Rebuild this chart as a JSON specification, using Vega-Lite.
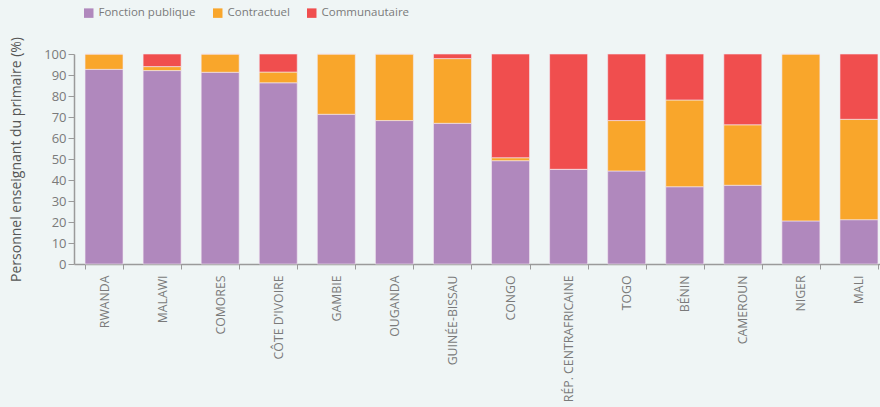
{
  "$schema": "https://vega.github.io/schema/vega-lite/v6.json",
  "width": 815,
  "height": 210,
  "autosize": {"type": "none"},
  "padding": {"left": 74, "top": 54, "right": 0, "bottom": 143},
  "background": "#eff5f5",
  "config": {
    "view": {"stroke": null},
    "font": "Open Sans"
  },
  "data": {
    "values": [
      {"pays": "RWANDA", "type": "Fonction publique", "o": 1, "v": 92.7},
      {"pays": "RWANDA", "type": "Contractuel", "o": 2, "v": 7.3},
      {"pays": "RWANDA", "type": "Communautaire", "o": 3, "v": 0},
      {"pays": "MALAWI", "type": "Fonction publique", "o": 1, "v": 92.1},
      {"pays": "MALAWI", "type": "Contractuel", "o": 2, "v": 1.9},
      {"pays": "MALAWI", "type": "Communautaire", "o": 3, "v": 6.0},
      {"pays": "COMORES", "type": "Fonction publique", "o": 1, "v": 91.3},
      {"pays": "COMORES", "type": "Contractuel", "o": 2, "v": 8.7},
      {"pays": "COMORES", "type": "Communautaire", "o": 3, "v": 0},
      {"pays": "CÔTE D'IVOIRE", "type": "Fonction publique", "o": 1, "v": 86.3},
      {"pays": "CÔTE D'IVOIRE", "type": "Contractuel", "o": 2, "v": 5.1},
      {"pays": "CÔTE D'IVOIRE", "type": "Communautaire", "o": 3, "v": 8.6},
      {"pays": "GAMBIE", "type": "Fonction publique", "o": 1, "v": 71.3},
      {"pays": "GAMBIE", "type": "Contractuel", "o": 2, "v": 28.7},
      {"pays": "GAMBIE", "type": "Communautaire", "o": 3, "v": 0},
      {"pays": "OUGANDA", "type": "Fonction publique", "o": 1, "v": 68.3},
      {"pays": "OUGANDA", "type": "Contractuel", "o": 2, "v": 31.7},
      {"pays": "OUGANDA", "type": "Communautaire", "o": 3, "v": 0},
      {"pays": "GUINÉE-BISSAU", "type": "Fonction publique", "o": 1, "v": 67.0},
      {"pays": "GUINÉE-BISSAU", "type": "Contractuel", "o": 2, "v": 30.8},
      {"pays": "GUINÉE-BISSAU", "type": "Communautaire", "o": 3, "v": 2.2},
      {"pays": "CONGO", "type": "Fonction publique", "o": 1, "v": 49.2},
      {"pays": "CONGO", "type": "Contractuel", "o": 2, "v": 1.4},
      {"pays": "CONGO", "type": "Communautaire", "o": 3, "v": 49.4},
      {"pays": "RÉP. CENTRAFRICAINE", "type": "Fonction publique", "o": 1, "v": 45.1},
      {"pays": "RÉP. CENTRAFRICAINE", "type": "Contractuel", "o": 2, "v": 0},
      {"pays": "RÉP. CENTRAFRICAINE", "type": "Communautaire", "o": 3, "v": 54.9},
      {"pays": "TOGO", "type": "Fonction publique", "o": 1, "v": 44.3},
      {"pays": "TOGO", "type": "Contractuel", "o": 2, "v": 24.0},
      {"pays": "TOGO", "type": "Communautaire", "o": 3, "v": 31.7},
      {"pays": "BÉNIN", "type": "Fonction publique", "o": 1, "v": 36.8},
      {"pays": "BÉNIN", "type": "Contractuel", "o": 2, "v": 41.3},
      {"pays": "BÉNIN", "type": "Communautaire", "o": 3, "v": 21.9},
      {"pays": "CAMEROUN", "type": "Fonction publique", "o": 1, "v": 37.5},
      {"pays": "CAMEROUN", "type": "Contractuel", "o": 2, "v": 28.8},
      {"pays": "CAMEROUN", "type": "Communautaire", "o": 3, "v": 33.7},
      {"pays": "NIGER", "type": "Fonction publique", "o": 1, "v": 20.5},
      {"pays": "NIGER", "type": "Contractuel", "o": 2, "v": 79.5},
      {"pays": "NIGER", "type": "Communautaire", "o": 3, "v": 0},
      {"pays": "MALI", "type": "Fonction publique", "o": 1, "v": 21.1},
      {"pays": "MALI", "type": "Contractuel", "o": 2, "v": 47.8},
      {"pays": "MALI", "type": "Communautaire", "o": 3, "v": 31.1}
    ]
  },
  "mark": {"type": "bar", "stroke": "#f4e9f4", "strokeWidth": 0.6},
  "encoding": {
    "x": {
      "field": "pays",
      "type": "nominal",
      "sort": null,
      "scale": {"paddingInner": 0.346, "paddingOuter": 0.19},
      "axis": {
        "title": null,
        "labelAngle": -90,
        "labelAlign": "right",
        "labelBaseline": "middle",
        "labelFontSize": 12.3,
        "labelColor": "#7a7a7a",
        "labelPadding": 6,
        "tickBand": "extent",
        "tickColor": "#9a9a9a",
        "tickSize": 5,
        "domainColor": "#9a9a9a",
        "domainWidth": 1.5
      }
    },
    "y": {
      "field": "v",
      "type": "quantitative",
      "stack": "zero",
      "scale": {"domain": [0, 100]},
      "axis": {
        "title": "Personnel enseignant du primaire (%)",
        "titleFontSize": 14,
        "titleFontWeight": "normal",
        "titleColor": "#555555",
        "titlePadding": 20,
        "values": [0, 10, 20, 30, 40, 50, 60, 70, 80, 90, 100],
        "labelFontSize": 13,
        "labelColor": "#7a7a7a",
        "tickColor": "#9a9a9a",
        "tickSize": 6,
        "domainColor": "#9a9a9a",
        "domainWidth": 1.5,
        "grid": false
      }
    },
    "color": {
      "field": "type",
      "type": "nominal",
      "sort": ["Fonction publique", "Contractuel", "Communautaire"],
      "scale": {
        "domain": ["Fonction publique", "Contractuel", "Communautaire"],
        "range": ["#b088bd", "#f9a62b", "#f04e4e"]
      },
      "legend": {
        "title": null,
        "orient": "none",
        "direction": "horizontal",
        "legendX": 9,
        "legendY": -47,
        "symbolType": "square",
        "symbolSize": 90,
        "symbolStrokeWidth": 0,
        "labelFontSize": 11.5,
        "labelColor": "#7a7a7a",
        "columnPadding": 16,
        "labelOffset": 4
      }
    },
    "order": {"field": "o", "type": "quantitative"}
  }
}
